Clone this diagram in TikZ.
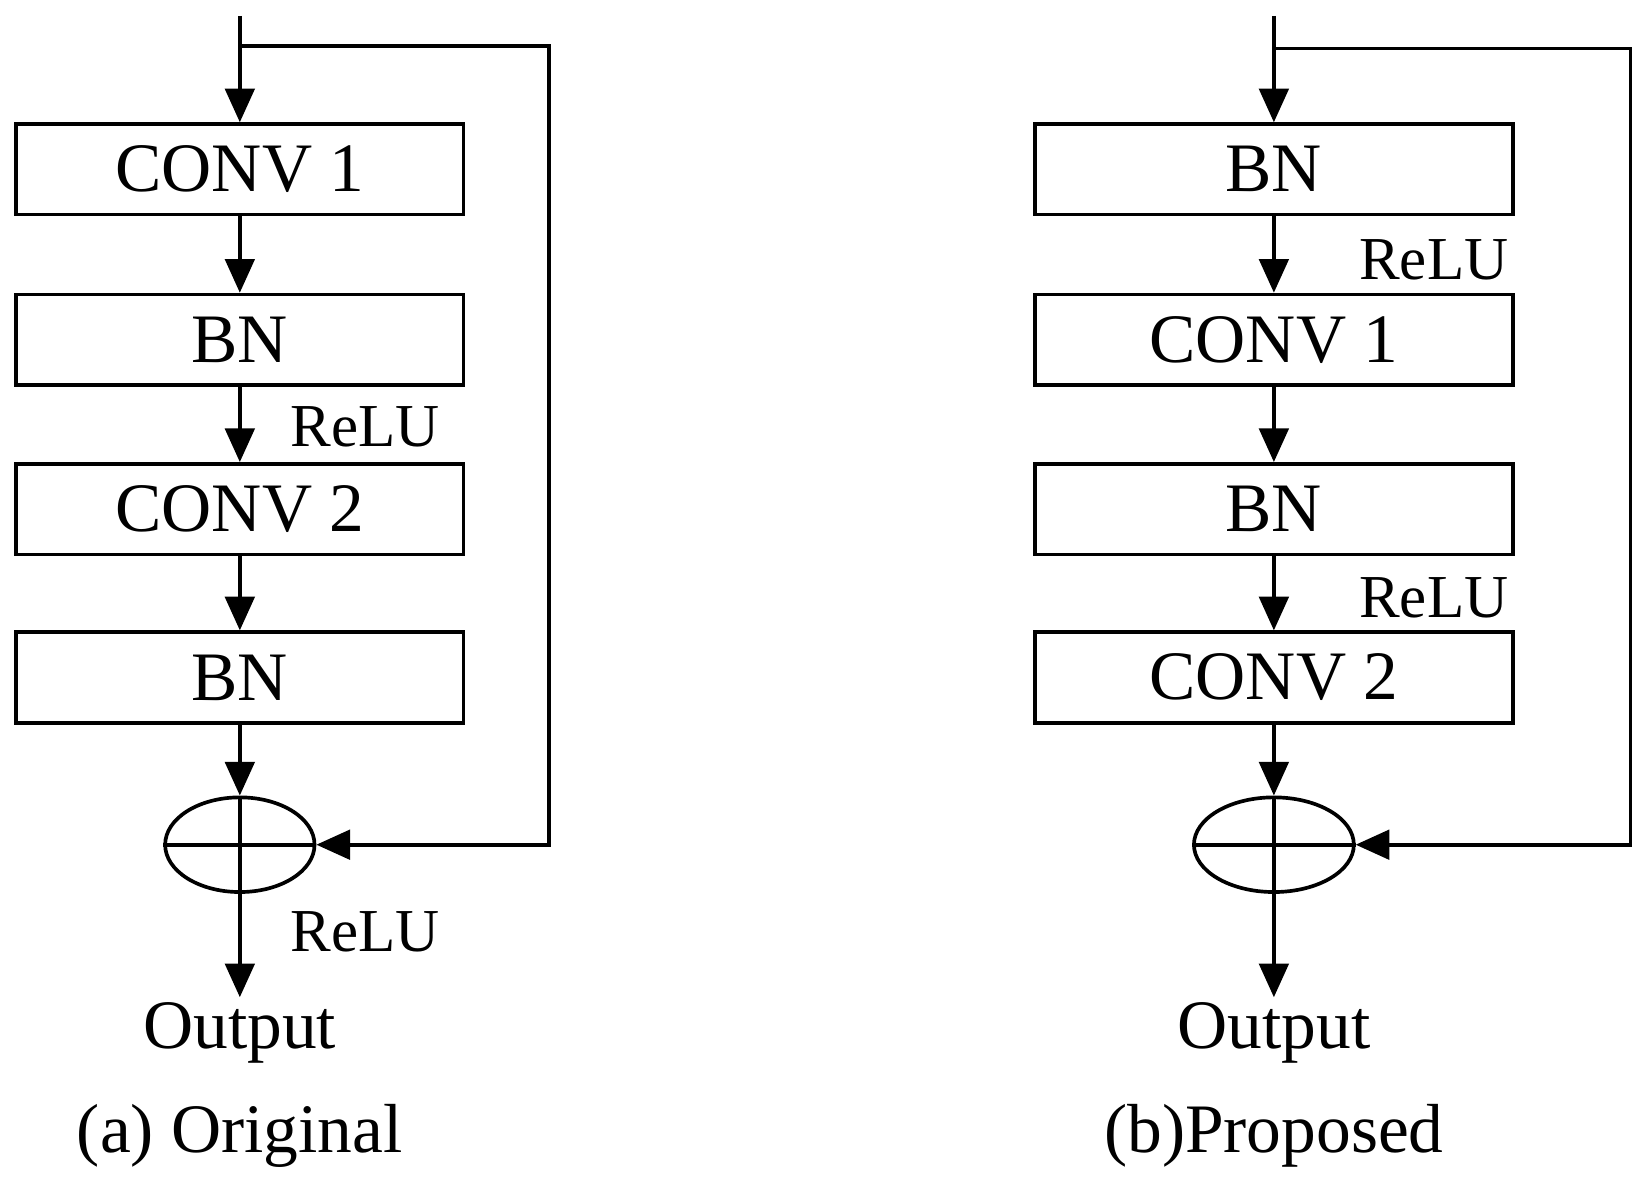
\documentclass[tikz,border=0pt]{standalone}
\usepackage{fontspec}
\setmainfont{Liberation Serif}
\usetikzlibrary{arrows.meta,shapes.geometric}
\begin{document}
\begin{tikzpicture}[x=1pt,y=-1pt,line width=3.5pt,
  blk/.style={draw,minimum height=86pt,inner sep=0pt,font=\fontsize{66}{70}\selectfont},
  lbl/.style={font=\fontsize{58}{62}\selectfont},
  captext/.style={font=\fontsize{66}{70}\selectfont},
  arr/.style={-{Triangle[length=32pt,width=28pt]}},
  sumnode/.style={draw,ellipse,minimum height=90pt,inner sep=0pt}]
\useasboundingbox (0,0) rectangle (1560,1124);
% left
\begin{scope}
\node[blk,minimum width=425pt] (a1) at (228,161) {CONV 1};
\node[blk,minimum width=425pt] (a2) at (228,323) {BN};
\node[blk,minimum width=425pt] (a3) at (228,484) {CONV 2};
\node[blk,minimum width=425pt] (a4) at (228,644) {BN};
\node[sumnode,minimum width=142pt] (as) at (228,803) {};
\coordinate (ain) at (228,15);
\coordinate (aout) at (228,948);
\coordinate (ac1) at (522,44);
\coordinate (ac2) at (522,803);
\draw[arr] (ain) -- (a1);
\draw[arr] (a1) -- (a2);
\draw[arr] (a2) -- (a3);
\draw[arr] (a3) -- (a4);
\draw[arr] (a4) -- (as.north);
\draw[arr] (as.north) -- (aout);
\draw (as.west) -- (as.east);
\draw[arr] (228,44) -- (ac1) -- (ac2) -- (as.east);
\node[lbl] (ar1) at (347,406) {ReLU};
\node[lbl] (ar2) at (347,886) {ReLU};
\node[captext] (ao) at (228,982) {Output};
\node[captext] (ac) at (228,1080) {(a) Original};
\end{scope}
% right
\begin{scope}
\node[blk,minimum width=454pt] (b1) at (1211,161) {BN};
\node[blk,minimum width=454pt] (b2) at (1211,323) {CONV 1};
\node[blk,minimum width=454pt] (b3) at (1211,484) {BN};
\node[blk,minimum width=454pt] (b4) at (1211,644) {CONV 2};
\node[sumnode,minimum width=152pt] (bs) at (1211,803) {};
\coordinate (bin) at (1211,15);
\coordinate (bout) at (1211,948);
\coordinate (bc1) at (1550,46);
\coordinate (bc2) at (1550,803);
\draw[arr] (bin) -- (b1);
\draw[arr] (b1) -- (b2);
\draw[arr] (b2) -- (b3);
\draw[arr] (b3) -- (b4);
\draw[arr] (b4) -- (bs.north);
\draw[arr] (bs.north) -- (bout);
\draw (bs.west) -- (bs.east);
\draw[arr] (1211,46) -- (bc1) -- (bc2) -- (bs.east);
\node[lbl] (br1) at (1363,247) {ReLU};
\node[lbl] (br2) at (1363,568) {ReLU};
\node[captext] (bo) at (1211,982) {Output};
\node[captext] (bcap) at (1211,1080) {(b)Proposed};
\end{scope}
\end{tikzpicture}
\end{document}
